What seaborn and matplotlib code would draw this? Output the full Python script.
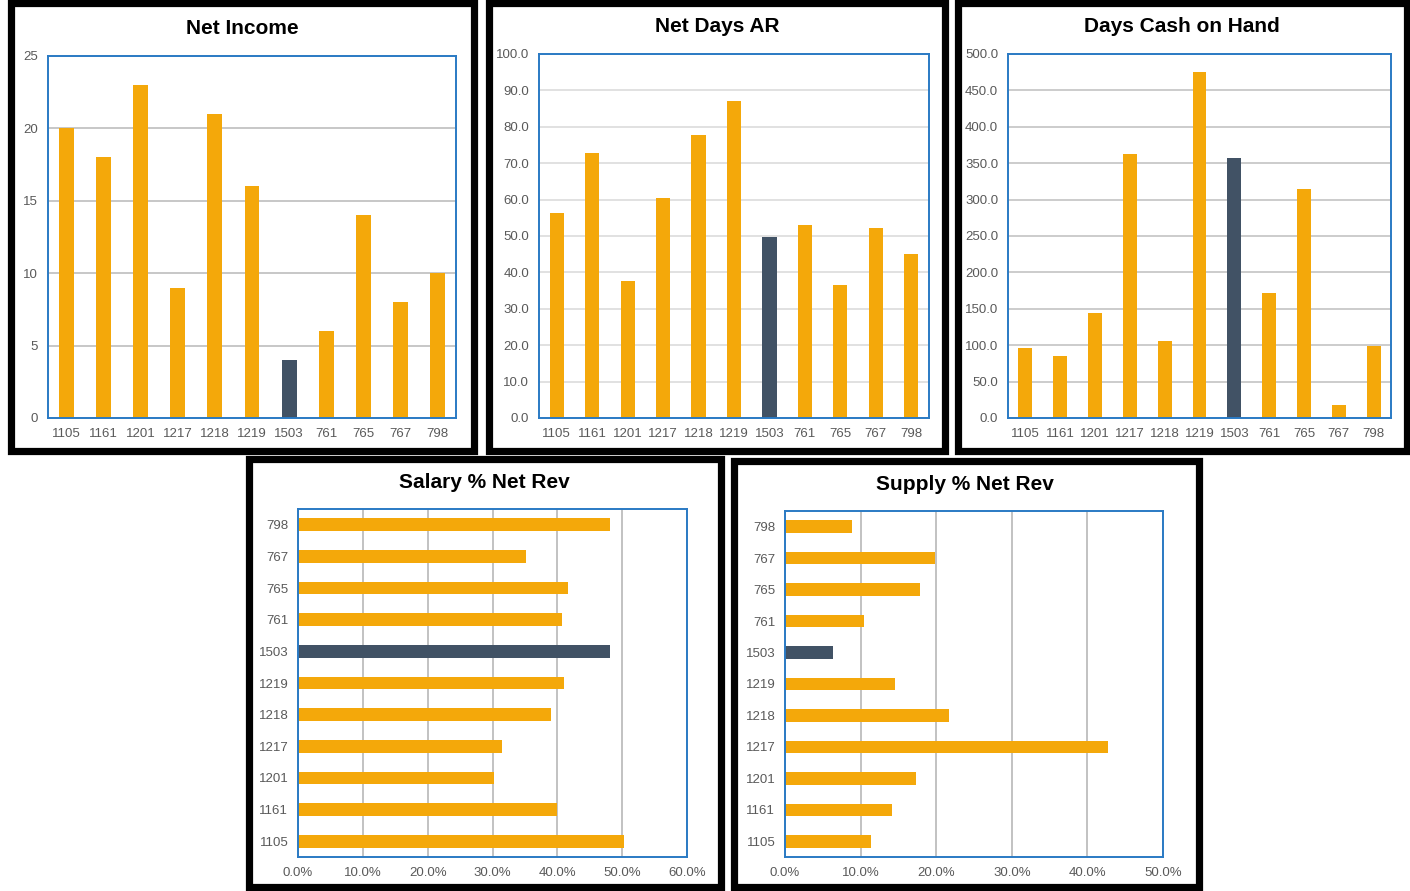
import seaborn as sns
import matplotlib.pyplot as plt
import pandas as pd
from matplotlib.patches import Rectangle
from matplotlib.ticker import FuncFormatter, MultipleLocator

# data
sites = ["1105", "1161", "1201", "1217", "1218", "1219", "1503", "761", "765", "767", "798"]
net_income = [20, 18, 23, 9, 21, 16, 4, 6, 14, 8, 10]
net_days_ar = [56.3, 72.7, 37.7, 60.5, 77.8, 87.2, 49.6, 53.0, 36.6, 52.2, 45.1]
days_cash = [96, 85, 144, 362, 106, 475, 357, 172, 315, 18, 99]
salary_pct = [50.3, 40.0, 30.3, 31.5, 39.0, 41.1, 48.1, 40.7, 41.7, 35.1, 48.2]
supply_pct = [11.4, 14.1, 17.3, 42.7, 21.7, 14.6, 6.4, 10.4, 17.9, 19.9, 8.9]
highlight = "1503"

ORANGE = "#F4A80A"
SLATE = "#415265"
BLUE = "#2A7AC4"
TICK = "#595959"

sns.set_theme(style="white")
plt.rcParams["font.family"] = ["Liberation Sans", "DejaVu Sans"]

W, H = 1410, 891
fig = plt.figure(figsize=(W / 100, H / 100), dpi=100)
palette = {s: (SLATE if s == highlight else ORANGE) for s in sites}


def px_axes(x0, y0, x1, y1):
    return fig.add_axes([x0 / W, 1 - y1 / H, (x1 - x0) / W, (y1 - y0) / H])


def panel(x0, y0, x1, y1):
    fig.add_artist(Rectangle((x0 / W, 1 - y1 / H), (x1 - x0) / W, (y1 - y0) / H,
                             transform=fig.transFigure, fill=False,
                             edgecolor="black", linewidth=5.2))


def title(x, y, text):
    fig.text(x / W, 1 - y / H, text, ha="center", va="center",
             fontsize=15, fontweight="bold", color="black")


def style(ax, horizontal, grid_color):
    for sp in ax.spines.values():
        sp.set_visible(True)
        sp.set_color(BLUE)
        sp.set_linewidth(1.4)
    ax.set_xlabel("")
    ax.set_ylabel("")
    ax.tick_params(axis="both", length=0, labelsize=9.5, labelcolor=TICK, pad=7)
    ax.grid(False)
    if horizontal:
        ax.xaxis.grid(True, color=grid_color, linewidth=1.2)
    else:
        ax.yaxis.grid(True, color=grid_color, linewidth=1.2)
    ax.set_axisbelow(True)


def vbar(ax, values, top, step, fmt, grid_color):
    df = pd.DataFrame({"site": sites, "value": values})
    sns.barplot(data=df, x="site", y="value", hue="site", order=sites,
                palette=palette, saturation=1, legend=False, width=0.4,
                linewidth=0, ax=ax)
    ax.set_ylim(0, top)
    ax.set_xlim(-0.5, len(sites) - 0.5)
    ax.yaxis.set_major_locator(MultipleLocator(step))
    ax.yaxis.set_major_formatter(FuncFormatter(fmt))
    style(ax, False, grid_color)


def hbar(ax, values, top, fmt):
    df = pd.DataFrame({"site": sites, "value": values})
    sns.barplot(data=df, x="value", y="site", hue="site", order=sites[::-1],
                palette=palette, saturation=1, legend=False, width=0.4,
                linewidth=0, orient="h", ax=ax)
    ax.set_xlim(0, top)
    ax.set_ylim(len(sites) - 0.5, -0.5)
    ax.xaxis.set_major_locator(MultipleLocator(10))
    ax.xaxis.set_major_formatter(FuncFormatter(fmt))
    style(ax, True, "#B8B8B8")


# panel frames
panel(10.5, 3.5, 474.5, 450.5)
panel(489, 3, 945, 451)
panel(957.5, 3, 1406.5, 451)
panel(248.5, 459, 721, 887)
panel(733.5, 460.5, 1199, 887)

# Net Income
ax1 = px_axes(48, 56, 456, 418)
vbar(ax1, net_income, 25, 5, lambda v, p: f"{v:.0f}", "#BDBDBD")
title(242, 28, "Net Income")

# Net Days AR
ax2 = px_axes(539, 54, 929, 418)
vbar(ax2, net_days_ar, 100, 10, lambda v, p: f"{v:.1f}", "#DCDCDC")
title(717, 27, "Net Days AR")

# Days Cash on Hand
ax3 = px_axes(1008, 54, 1391, 418)
vbar(ax3, days_cash, 500, 50, lambda v, p: f"{v:.1f}", "#C4C4C4")
title(1182, 27, "Days Cash on Hand")

# Salary % Net Rev
ax4 = px_axes(298, 509, 687, 857)
hbar(ax4, salary_pct, 60, lambda v, p: f"{v:.1f}%")
title(484, 483, "Salary % Net Rev")

# Supply % Net Rev
ax5 = px_axes(785, 511, 1163, 857)
hbar(ax5, supply_pct, 50, lambda v, p: f"{v:.1f}%")
title(965, 484, "Supply % Net Rev")

fig.savefig("out.png", dpi=100, facecolor="white")
